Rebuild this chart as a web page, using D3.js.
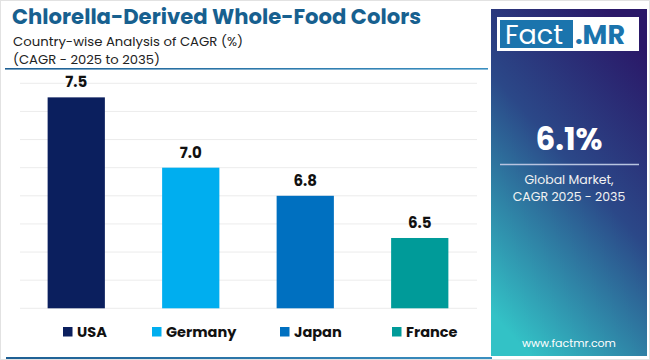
<!DOCTYPE html>
<html><head><meta charset="utf-8">
<script src="https://cdn.jsdelivr.net/npm/d3@7"></script>
<style>body{margin:0;background:#fff}svg{display:block}text{font-family:"Poppins","Open Sans",sans-serif}</style>
</head><body><svg id="c" width="650" height="360"></svg>
<script>
const categories = ["USA", "Germany", "Japan", "France"];
const values = [7.5, 7.0, 6.8, 6.5];
const colors = ["#0b1f5e", "#00aeef", "#0070c0", "#009b99"];
const gridTicks = [6.0, 6.2, 6.4, 6.6, 6.8, 7.0, 7.2, 7.4, 7.6];
const title = "Chlorella-Derived Whole-Food Colors";
const subtitle1 = "Country-wise Analysis of CAGR (%)";
const subtitle2 = "(CAGR - 2025 to 2035)";
const globalValue = "6.1%";
const globalLabel = ["Global Market,", "CAGR 2025 - 2035"];

const svg = d3.select("#c");
const defs = svg.append("defs");
const g1 = defs.append("linearGradient").attr("id","panel").attr("x1","0.75").attr("y1","0").attr("x2","0.25").attr("y2","1");
g1.append("stop").attr("offset","0").attr("stop-color","#2a1868");
g1.append("stop").attr("offset","0.45").attr("stop-color","#2b4888");
g1.append("stop").attr("offset","1").attr("stop-color","#33c2c6");
const g2 = defs.append("linearGradient").attr("id","rule").attr("x1","0").attr("x2","1");
g2.append("stop").attr("offset","0").attr("stop-color","#1e5f93");
g2.append("stop").attr("offset","1").attr("stop-color","#3a8fc0");

// frame
svg.append("rect").attr("x",0.5).attr("y",0.5).attr("width",649).attr("height",359).attr("fill","#fff").attr("stroke","#e2e2e2");
svg.append("rect").attr("x",5).attr("y",68).attr("width",483).attr("height",1.6).attr("fill","url(#rule)");
svg.append("rect").attr("x",6).attr("y",357).attr("width",486).attr("height",2).attr("fill","url(#rule)");

// titles
svg.append("text").attr("x",12).attr("y",24).attr("font-size",21.5).attr("font-weight",700).attr("fill","#17608f").text(title)
  .attr("textLength",409).attr("lengthAdjust","spacingAndGlyphs");
svg.append("text").attr("x",13).attr("y",45.5).attr("font-size",13.2).attr("fill","#222").text(subtitle1)
  .attr("textLength",230).attr("lengthAdjust","spacingAndGlyphs");
svg.append("text").attr("x",13).attr("y",63.5).attr("font-size",13.2).attr("fill","#222").text(subtitle2)
  .attr("textLength",147).attr("lengthAdjust","spacingAndGlyphs");

// chart
const x = d3.scaleBand().domain(categories).range([19, 477]).paddingInner(0.5).paddingOuter(0.25);
const y = d3.scaleLinear().domain([6.0, 7.6]).range([308.3, 83.3]);

svg.append("g").selectAll("line").data(gridTicks).join("line")
  .attr("x1",20).attr("x2",477).attr("y1",d=>y(d)).attr("y2",d=>y(d))
  .attr("stroke","#ececec").attr("stroke-width",1);

svg.append("g").selectAll("rect").data(values).join("rect")
  .attr("x",(d,i)=>x(categories[i])).attr("width",x.bandwidth())
  .attr("y",d=>y(d)).attr("height",d=>y(6.0)-y(d))
  .attr("fill",(d,i)=>colors[i]);

svg.append("g").selectAll("text").data(values).join("text")
  .attr("x",(d,i)=>x(categories[i])+x.bandwidth()/2).attr("y",d=>y(d)-10)
  .attr("text-anchor","middle").attr("font-size",15).attr("font-weight",700).attr("fill","#111")
  .text(d=>d.toFixed(1));

// legend
const legX = [63, 152, 280, 392];
const lg = svg.append("g").selectAll("g").data(categories).join("g")
  .attr("transform",(d,i)=>`translate(${legX[i]},327)`);
lg.append("rect").attr("width",9.5).attr("height",9.5).attr("fill",(d,i)=>colors[i]);
lg.append("text").attr("x",14).attr("y",10).attr("font-size",14.5).attr("font-weight",700).attr("fill","#111").text(d=>d);

// side panel
svg.append("rect").attr("x",491).attr("y",9).attr("width",156).attr("height",347).attr("fill","url(#panel)");
svg.append("rect").attr("x",497).attr("y",17).attr("width",142).attr("height",34).attr("fill","#fff");
svg.append("rect").attr("x",500).attr("y",20).attr("width",73).attr("height",28).attr("fill","#1b74ad");
svg.append("text").attr("x",505).attr("y",44).attr("font-size",27).attr("fill","#fff").text("Fact");
svg.append("text").attr("x",575).attr("y",44).attr("font-size",27).attr("font-weight",700).attr("fill","#1b74ad").text(".MR");

svg.append("text").attr("x",569).attr("y",150).attr("text-anchor","middle").attr("font-size",31).attr("font-weight",700).attr("fill","#fff").text(globalValue);
svg.append("line").attr("x1",500).attr("x2",639).attr("y1",164.5).attr("y2",164.5).attr("stroke","#b8c4e0").attr("stroke-width",1.5);
svg.append("g").selectAll("text").data(globalLabel).join("text")
  .attr("x",569).attr("y",(d,i)=>184+i*17).attr("text-anchor","middle").attr("font-size",12.5).attr("fill","#f2f2f2").text(d=>d);
svg.append("text").attr("x",569).attr("y",347).attr("text-anchor","middle").attr("font-size",11).attr("fill","#fff").text("www.factmr.com");
</script></body></html>
